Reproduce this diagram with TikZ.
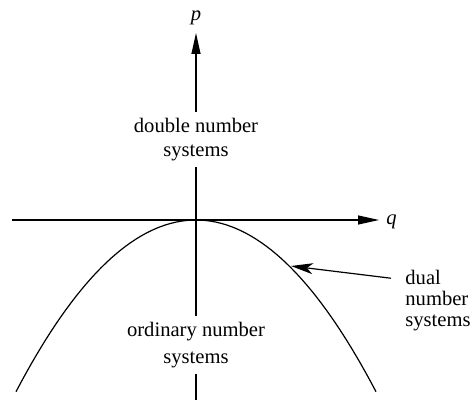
\documentclass[tikz,border=0pt]{standalone}
\usepackage{fontspec}
\setmainfont{Liberation Serif}
\usetikzlibrary{arrows.meta,positioning}

\begin{document}
\begin{tikzpicture}[x=0.5pt, y=-0.5pt,
  axis/.style={line width=0.6pt, -{Triangle[length=10.5pt,width=4.5pt]}},
  region/.style={fill=white, inner xsep=1pt, inner ysep=3pt, align=center},
  curve/.style={line width=0.6pt},
  pointer/.style={line width=0.6pt, -{Stealth[length=11pt,width=5.5pt,inset=3pt]}},
  lbl/.style={inner sep=0pt, font=\fontsize{10.3}{12}\selectfont}
]
  \useasboundingbox (0,0) rectangle (471,401);
  \coordinate (west) at (12,220);
  \coordinate (east) at (379,220);
  \coordinate (south) at (196,400);
  \coordinate (north) at (196,33);
  \coordinate (tip) at (291,266);
  % axes
  \draw[axis] (west) -- (east);
  \draw[axis] (south) -- (north);
  \node[lbl, anchor=base west] (q) at (386,224) {\textit{q}};
  \node[lbl, anchor=base] (p) at (196,21) {\textit{p}};
  % boundary curve
  \draw[curve] plot[variable=\t, domain=-18:18, samples=73] ({196+10*\t}, {220+0.53*\t*\t});
  \node[region, font=\fontsize{10.3}{12}\selectfont] (double) at (196,139.5) {double number\\systems};
  \node[region, font=\fontsize{10.3}{13.5}\selectfont] (ordinary) at (196,345) {ordinary number\\systems};
  \node[lbl, font=\fontsize{10.3}{10.5}\selectfont, align=left, anchor=west] (dual) at (405,301) {dual\\number\\systems};
  \draw[pointer] ([shift={(-14,8)}]dual.north west) -- (tip);
\end{tikzpicture}
\end{document}
